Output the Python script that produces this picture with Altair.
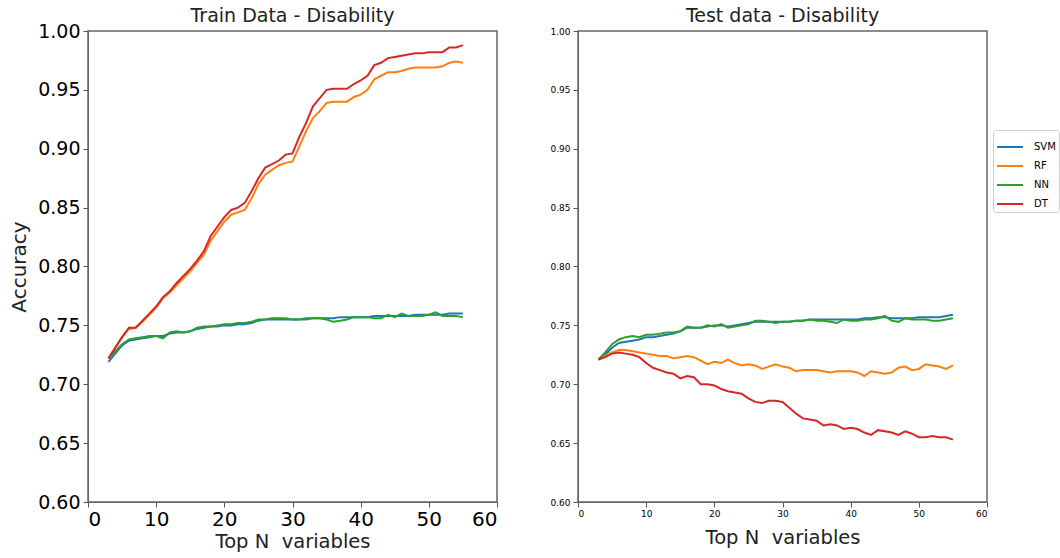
import altair as alt
import pandas as pd

N = list(range(3, 56))

train_svm = [0.719, 0.726, 0.733, 0.737, 0.738, 0.739, 0.740, 0.741, 0.741, 0.743, 0.744, 0.744, 0.745, 0.747,
             0.748, 0.749, 0.749, 0.750, 0.750, 0.751, 0.751, 0.752, 0.754, 0.755, 0.755, 0.755, 0.755, 0.755,
             0.755, 0.756, 0.756, 0.756, 0.756, 0.756, 0.757, 0.757, 0.757, 0.757, 0.757, 0.758, 0.758, 0.758,
             0.758, 0.758, 0.758, 0.759, 0.759, 0.759, 0.759, 0.759, 0.760, 0.760, 0.760]
train_rf = [0.722, 0.731, 0.740, 0.747, 0.748, 0.753, 0.759, 0.765, 0.773, 0.778, 0.784, 0.790, 0.796, 0.803,
            0.810, 0.822, 0.830, 0.838, 0.844, 0.846, 0.848, 0.858, 0.870, 0.878, 0.882, 0.886, 0.888, 0.889,
            0.902, 0.915, 0.926, 0.932, 0.939, 0.940, 0.940, 0.940, 0.944, 0.946, 0.950, 0.959, 0.962, 0.965,
            0.965, 0.966, 0.968, 0.969, 0.969, 0.969, 0.969, 0.970, 0.973, 0.974, 0.973]
train_nn = [0.722, 0.728, 0.734, 0.738, 0.739, 0.740, 0.741, 0.741, 0.739, 0.744, 0.745, 0.744, 0.745, 0.748,
            0.749, 0.749, 0.750, 0.751, 0.751, 0.752, 0.752, 0.753, 0.755, 0.755, 0.756, 0.756, 0.756, 0.755,
            0.755, 0.755, 0.756, 0.756, 0.755, 0.753, 0.754, 0.755, 0.757, 0.757, 0.757, 0.756, 0.756, 0.759,
            0.757, 0.760, 0.758, 0.758, 0.758, 0.759, 0.761, 0.758, 0.758, 0.758, 0.757]
train_dt = [0.722, 0.731, 0.740, 0.748, 0.748, 0.754, 0.760, 0.766, 0.774, 0.779, 0.786, 0.792, 0.798, 0.805,
            0.813, 0.826, 0.834, 0.842, 0.848, 0.850, 0.854, 0.864, 0.875, 0.884, 0.887, 0.890, 0.895, 0.896,
            0.910, 0.922, 0.936, 0.943, 0.950, 0.951, 0.951, 0.951, 0.955, 0.958, 0.962, 0.971, 0.973, 0.977,
            0.978, 0.979, 0.980, 0.981, 0.981, 0.982, 0.982, 0.982, 0.986, 0.986, 0.988]

test_svm = [0.721, 0.725, 0.731, 0.735, 0.736, 0.737, 0.738, 0.740, 0.740, 0.741, 0.742, 0.743, 0.745, 0.748,
            0.748, 0.748, 0.749, 0.750, 0.750, 0.749, 0.750, 0.751, 0.752, 0.753, 0.753, 0.753, 0.753, 0.753,
            0.753, 0.754, 0.754, 0.755, 0.755, 0.755, 0.755, 0.755, 0.755, 0.755, 0.755, 0.756, 0.756, 0.757,
            0.757, 0.756, 0.756, 0.756, 0.756, 0.757, 0.757, 0.757, 0.757, 0.758, 0.759]
test_rf = [0.721, 0.724, 0.727, 0.729, 0.729, 0.728, 0.727, 0.726, 0.725, 0.724, 0.724, 0.722, 0.723, 0.724,
           0.723, 0.720, 0.717, 0.719, 0.718, 0.721, 0.718, 0.716, 0.717, 0.716, 0.713, 0.715, 0.717, 0.715,
           0.714, 0.711, 0.712, 0.712, 0.712, 0.711, 0.710, 0.711, 0.711, 0.711, 0.710, 0.707, 0.711, 0.710,
           0.709, 0.710, 0.714, 0.715, 0.712, 0.713, 0.717, 0.716, 0.715, 0.713, 0.716]
test_nn = [0.721, 0.727, 0.734, 0.738, 0.740, 0.741, 0.740, 0.742, 0.742, 0.743, 0.744, 0.744, 0.745, 0.749,
           0.748, 0.748, 0.750, 0.749, 0.751, 0.748, 0.749, 0.750, 0.751, 0.754, 0.754, 0.753, 0.752, 0.753,
           0.753, 0.754, 0.754, 0.755, 0.754, 0.754, 0.753, 0.752, 0.755, 0.754, 0.754, 0.755, 0.755, 0.756,
           0.758, 0.754, 0.753, 0.756, 0.755, 0.755, 0.755, 0.754, 0.754, 0.755, 0.756]
test_dt = [0.721, 0.723, 0.726, 0.727, 0.726, 0.725, 0.723, 0.718, 0.714, 0.712, 0.710, 0.709, 0.705, 0.707,
           0.706, 0.700, 0.700, 0.699, 0.696, 0.694, 0.693, 0.692, 0.688, 0.685, 0.684, 0.686, 0.686, 0.685,
           0.680, 0.675, 0.671, 0.670, 0.669, 0.665, 0.666, 0.665, 0.662, 0.663, 0.662, 0.659, 0.657, 0.661,
           0.660, 0.659, 0.657, 0.660, 0.658, 0.655, 0.655, 0.656, 0.655, 0.655, 0.653]

models = ["SVM", "RF", "NN", "DT"]
colors = ["#1f77b4", "#ff7f0e", "#2ca02c", "#d62728"]


def frame(series):
    rows = []
    for i, (name, vals) in enumerate(zip(models, series)):
        for n, v in zip(N, vals):
            rows.append({"N": n, "Accuracy": v, "Model": name, "order": i})
    return pd.DataFrame(rows)


train_df = frame([train_svm, train_rf, train_nn, train_dt])
test_df = frame([test_svm, test_rf, test_nn, test_dt])

FONT = "DejaVu Sans"
W, H = 409, 471


def panel(df, title, big, show_ytitle, title_offset):
    lab = 19 if big else 9
    return alt.Chart(df).mark_line(strokeWidth=2).encode(
        x=alt.X("N:Q", scale=alt.Scale(domain=[0, 60], nice=False),
                axis=alt.Axis(values=[0, 10, 20, 30, 40, 50, 60], title="Top N\u00a0 variables",
                              labelFontSize=lab + (1 if big else 0), titleFontSize=19.5, grid=False,
                              tickSize=5, labelPadding=2, titlePadding=3 if big else 10,
                              labelFont=FONT, titleFont=FONT,
                              labelColor="#000", titleColor="#222", titleFontWeight="normal",
                              domainColor="#666", tickColor="#555")),
        y=alt.Y("Accuracy:Q", scale=alt.Scale(domain=[0.6, 1.0], nice=False, zero=False),
                axis=alt.Axis(values=[0.6, 0.65, 0.7, 0.75, 0.8, 0.85, 0.9, 0.95, 1.0], format=".2f",
                              title="Accuracy" if show_ytitle else None,
                              labelFontSize=lab, titleFontSize=20, grid=False, tickSize=5,
                              labelPadding=3, titlePadding=8, labelFont=FONT, titleFont=FONT,
                              labelColor="#000", titleColor="#222", titleFontWeight="normal",
                              domainColor="#666", tickColor="#555")),
        color=alt.Color("Model:N", scale=alt.Scale(domain=models, range=colors),
                        legend=alt.Legend(title=None, orient="none", legendX=905, legendY=99,
                                          symbolType="stroke", symbolSize=676, symbolStrokeWidth=2,
                                          labelFontSize=10, labelFont=FONT, rowPadding=0,
                                          padding=3, strokeColor="#ccc", fillColor="white",
                                          cornerRadius=3, labelOffset=10)),
        order=alt.Order("order:Q"),
    ).properties(
        width=W, height=H,
        title=alt.TitleParams(title, fontSize=19, font=FONT, fontWeight="normal", color="#222",
                              offset=title_offset, frame="group"),
    )


left = panel(train_df, "Train Data - Disability", True, True, -4)
right = panel(test_df, "Test data - Disability", False, False, 1)

chart = alt.hconcat(left, right, spacing=50).properties(
    padding={"left": 8, "top": 6, "right": 0, "bottom": 0}
).configure_view(stroke="#666", strokeWidth=1.5)

chart.save("out.html", embed_options={"renderer": "svg", "actions": False})
